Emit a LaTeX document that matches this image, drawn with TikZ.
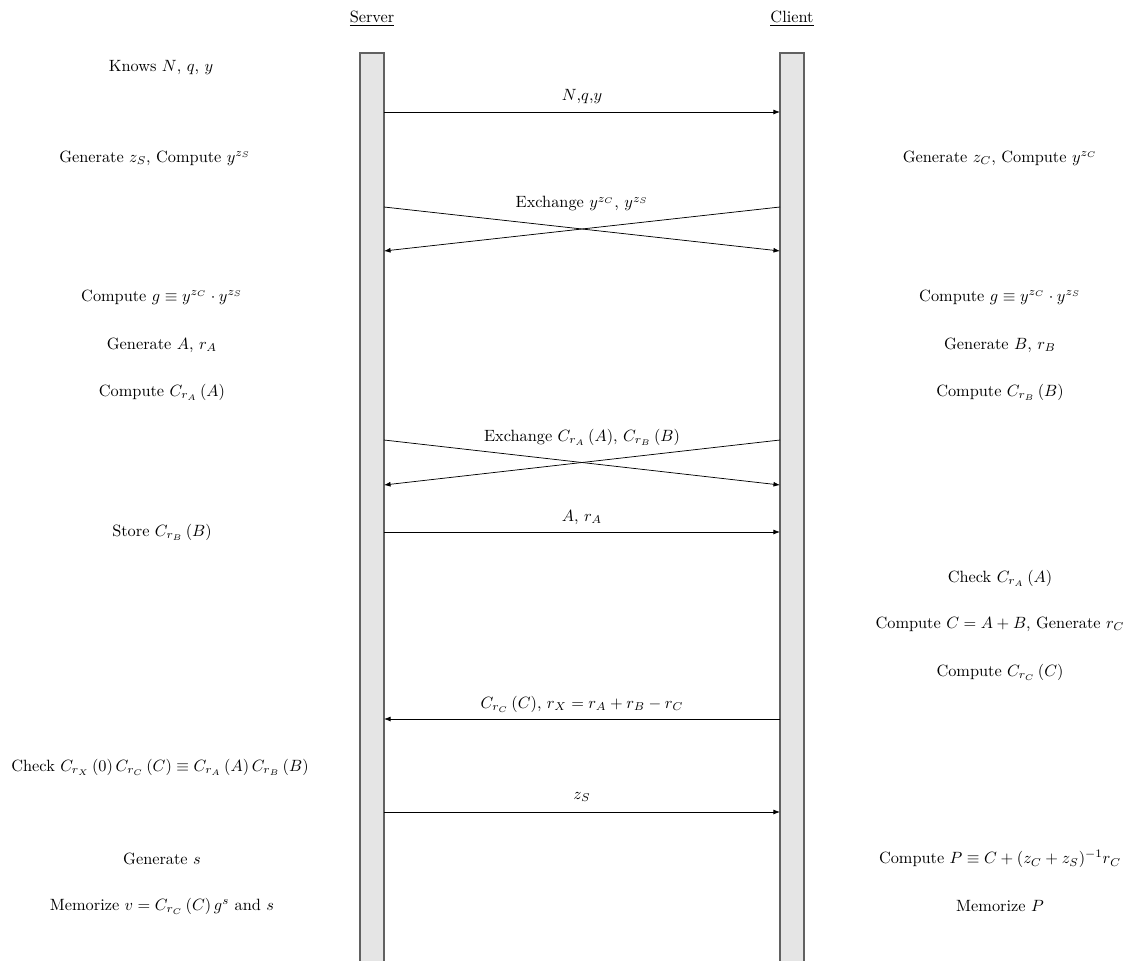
\documentclass[tikz,border=0pt]{standalone}
\usepackage{amsmath,amssymb}
\usetikzlibrary{arrows.meta,calc}
\begin{document}
\begin{tikzpicture}[x=0.613pt,y=-0.613pt,
  lifebar/.style={draw=black!62,fill=black!10,line width=0.85pt},
  msg/.style={draw=black,line width=0.45pt,-{Latex[length=4pt,width=3pt]}},
  act/.style={inner sep=0pt,anchor=center},
  lbl/.style={inner sep=0pt,anchor=center}]
\useasboundingbox (0,0) rectangle (1127,961);
% headers
\node[act] (hs) at (372,19) {\underline{Server}};
\node[act] (hc) at (792,19) {\underline{Client}};
% lifelines
\draw[lifebar] (360,53) rectangle (384,968);
\draw[lifebar] (780,53) rectangle (804,968);
% coordinates on the bars
\foreach \n/\y in {1/112,2/207,3/251,4/440,5/485,6/532,7/719,8/812}{
  \coordinate (s\n) at (384,\y);
  \coordinate (c\n) at (780,\y);
}
% server actions
\node[act] (a1) at (161,68) {Knows $N$, $q$, $y$};
\node[act] (a2) at (155,158) {Generate $z_S$, Compute $y^{z_S}$};
\node[act] (a3) at (162,297) {Compute $g\equiv y^{z_C}\cdot y^{z_S}$};
\node[act] (a4) at (162,345) {Generate $A$, $r_A$};
\node[act] (a5) at (162,392) {Compute $C_{r_A}\left(A\right)$};
\node[act] (a6) at (162,532) {Store $C_{r_B}\left(B\right)$};
\node[act] (a7) at (160,767) {Check $C_{r_X}\left(0\right)C_{r_C}\left(C\right)\equiv C_{r_A}\left(A\right)C_{r_B}\left(B\right)$};
\node[act] (a8) at (162,859) {Generate $s$};
\node[act] (a9) at (162,906) {Memorize $v=C_{r_C}\left(C\right)g^s$ and $s$};
% client actions
\node[act] (b1) at (1000,158) {Generate $z_C$, Compute $y^{z_C}$};
\node[act] (b2) at (1000,297) {Compute $g\equiv y^{z_C}\cdot y^{z_S}$};
\node[act] (b3) at (1000,345) {Generate $B$, $r_B$};
\node[act] (b4) at (1000,392) {Compute $C_{r_B}\left(B\right)$};
\node[act] (b5) at (1000,578) {Check $C_{r_A}\left(A\right)$};
\node[act] (b6) at (1000,624) {Compute $C=A+B$, Generate $r_C$};
\node[act] (b7) at (1000,672) {Compute $C_{r_C}\left(C\right)$};
\node[act] (b8) at (1000,859) {Compute $P\equiv C+(z_C+z_S)^{-1}r_C$};
\node[act] (b9) at (1000,906) {Memorize $P$};
% messages
\draw[msg] (s1) -- (c1);
\node[lbl] (m1) at ($(s1)!0.5!(c1)+(0,-15)$) {$N$,$q$,$y$};
\draw[msg] (s2) -- (c3);
\draw[msg] (c2) -- (s3);
\node[lbl] (m2) at ($(s2)!0.5!(c2)+(0,-3)$) {Exchange $y^{z_C}$, $y^{z_S}$};
\draw[msg] (s4) -- (c5);
\draw[msg] (c4) -- (s5);
\node[lbl] (m3) at ($(s4)!0.5!(c4)+(0,-3)$) {Exchange $C_{r_A}\left(A\right)$, $C_{r_B}\left(B\right)$};
\draw[msg] (s6) -- (c6);
\node[lbl] (m4) at ($(s6)!0.5!(c6)+(0,-15)$) {$A$, $r_A$};
\draw[msg] (c7) -- (s7);
\node[lbl] (m5) at ($(s7)!0.5!(c7)+(0,-15)$) {$C_{r_C}\left(C\right)$, $r_X=r_A+r_B-r_C$};
\draw[msg] (s8) -- (c8);
\node[lbl] (m6) at ($(s8)!0.5!(c8)+(0,-15)$) {$z_S$};
\end{tikzpicture}
\end{document}
